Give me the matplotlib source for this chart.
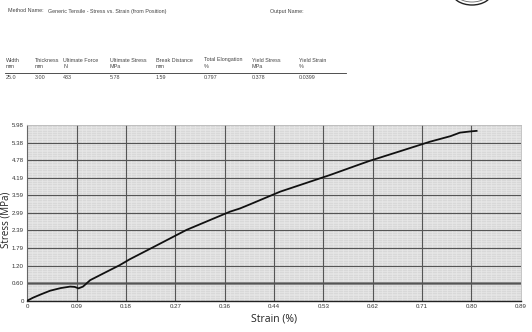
import matplotlib
matplotlib.use('Agg')
import matplotlib.pyplot as plt
from matplotlib.patches import Ellipse
from matplotlib.ticker import MultipleLocator

# curve
strain = [0.0, 0.010, 0.025, 0.041, 0.060, 0.077, 0.085, 0.092, 0.100, 0.113, 0.143,
          0.166, 0.184, 0.226, 0.286, 0.364, 0.382, 0.40, 0.454, 0.544, 0.597, 0.615,
          0.670, 0.723, 0.760, 0.777, 0.795, 0.807]
stress = [0.0, 0.10, 0.22, 0.34, 0.43, 0.48, 0.47, 0.42, 0.48, 0.70, 0.99,
          1.21, 1.41, 1.82, 2.41, 3.03, 3.14, 3.28, 3.71, 4.28, 4.64, 4.76,
          5.09, 5.41, 5.60, 5.72, 5.76, 5.78]

x_ticks = ['0', '0.09', '0.18', '0.27', '0.36', '0.44', '0.53', '0.62', '0.71', '0.80', '0.89']
y_ticks = ['0', '0.60', '1.20', '1.79', '2.39', '2.99', '3.59', '4.19', '4.78', '5.38', '5.98']
x_max = 0.886
y_max = 5.98

col_names = ['Width', 'Thickness', 'Ultimate Force', 'Ultimate Stress', 'Break Distance',
             'Total Elongation', 'Yield Stress', 'Yield Strain']
col_units = ['mm', 'mm', 'N', 'MPa', 'mm', '%', 'MPa', '%']
col_values = ['25.0', '3.00', '433', '5.78', '1.59', '0.797', '0.378', '0.0399']
col_x = [6, 35, 63, 110, 156, 204, 252, 299]

W, H = 532, 332
fig = plt.figure(figsize=(W / 100, H / 100), dpi=100)
fig.patch.set_facecolor('white')

narrow = ['Liberation Sans Narrow', 'Liberation Sans', 'DejaVu Sans']
small = dict(fontsize=3.9, family=narrow, color='#444444', va='center')

fig.text(8 / W, 1 - 11 / H, 'Method Name:', **small)
fig.text(48 / W, 1 - 11 / H, 'Generic Tensile - Stress vs. Strain (from Position)', **small)
fig.text(270 / W, 1 - 11 / H, 'Output Name:', **small)

for x, n, u, v in zip(col_x, col_names, col_units, col_values):
    fig.text(x / W, 1 - 60 / H, n, **small)
    fig.text(x / W, 1 - 67 / H, u, **small)
    fig.text(x / W, 1 - 77.5 / H, v, **small)
fig.add_artist(plt.Line2D([5 / W, 346 / W], [1 - 73 / H, 1 - 73 / H], color='#333333', lw=0.6))

# logo fragment top right
fig.add_artist(Ellipse((472 / W, 1 + 8 / H), 40 / W, 26 / H, fill=False, ec='#222222', lw=1.0))
fig.add_artist(Ellipse((472 / W, 1 + 8 / H), 34 / W, 20 / H, fill=False, ec='#666666', lw=0.6))

ax = fig.add_axes([27.3 / W, 1 - 300.7 / H, 493.3 / W, 175.7 / H])
ax.set_facecolor('#d8d8d8')
ax.set_xlim(0, x_max)
ax.set_ylim(0, y_max)
xt = [x_max * i / 10 for i in range(11)]
yt = [y_max * i / 10 for i in range(11)]
ax.set_xticks(xt)
ax.set_xticklabels(x_ticks)
ax.set_yticks(yt)
ax.set_yticklabels(y_ticks)
ax.xaxis.set_minor_locator(MultipleLocator(x_max / 100))
ax.yaxis.set_minor_locator(MultipleLocator(y_max / 100))
ax.grid(which='minor', color='#eaeaea', lw=0.4, zorder=0)
ax.set_axisbelow(True)
for v in xt[1:-1]:
    ax.axvline(v, color='#555555', lw=0.8, zorder=2)
for v in yt[1:-1]:
    ax.axhline(v, color='#555555', lw=0.8, zorder=2)
ax.axhline(y_max * 0.1, color='#8a8a8a', lw=2.2, zorder=1.5)
ax.tick_params(which='both', length=0, labelsize=4.4, colors='#333333', pad=2.5)
for lab in ax.get_xticklabels() + ax.get_yticklabels():
    lab.set_family(narrow)
for s in ['top', 'right']:
    ax.spines[s].set_color('#bbbbbb')
    ax.spines[s].set_linewidth(0.6)
ax.spines['left'].set_color('#666666')
ax.spines['bottom'].set_color('#222222')
ax.spines['bottom'].set_linewidth(1.0)

ax.plot(strain, stress, color='#111111', lw=1.3, zorder=5)

ax.set_xlabel('Strain (%)', fontsize=7.5, family=['Open Sans', 'DejaVu Sans'], color='#222222', labelpad=3)
fig.text(6 / W, 1 - 220 / H, 'Stress (MPa)', rotation=90, ha='center', va='center',
         fontsize=7, family=['Open Sans', 'DejaVu Sans'], color='#222222')

fig.savefig('out.png', dpi=100)
